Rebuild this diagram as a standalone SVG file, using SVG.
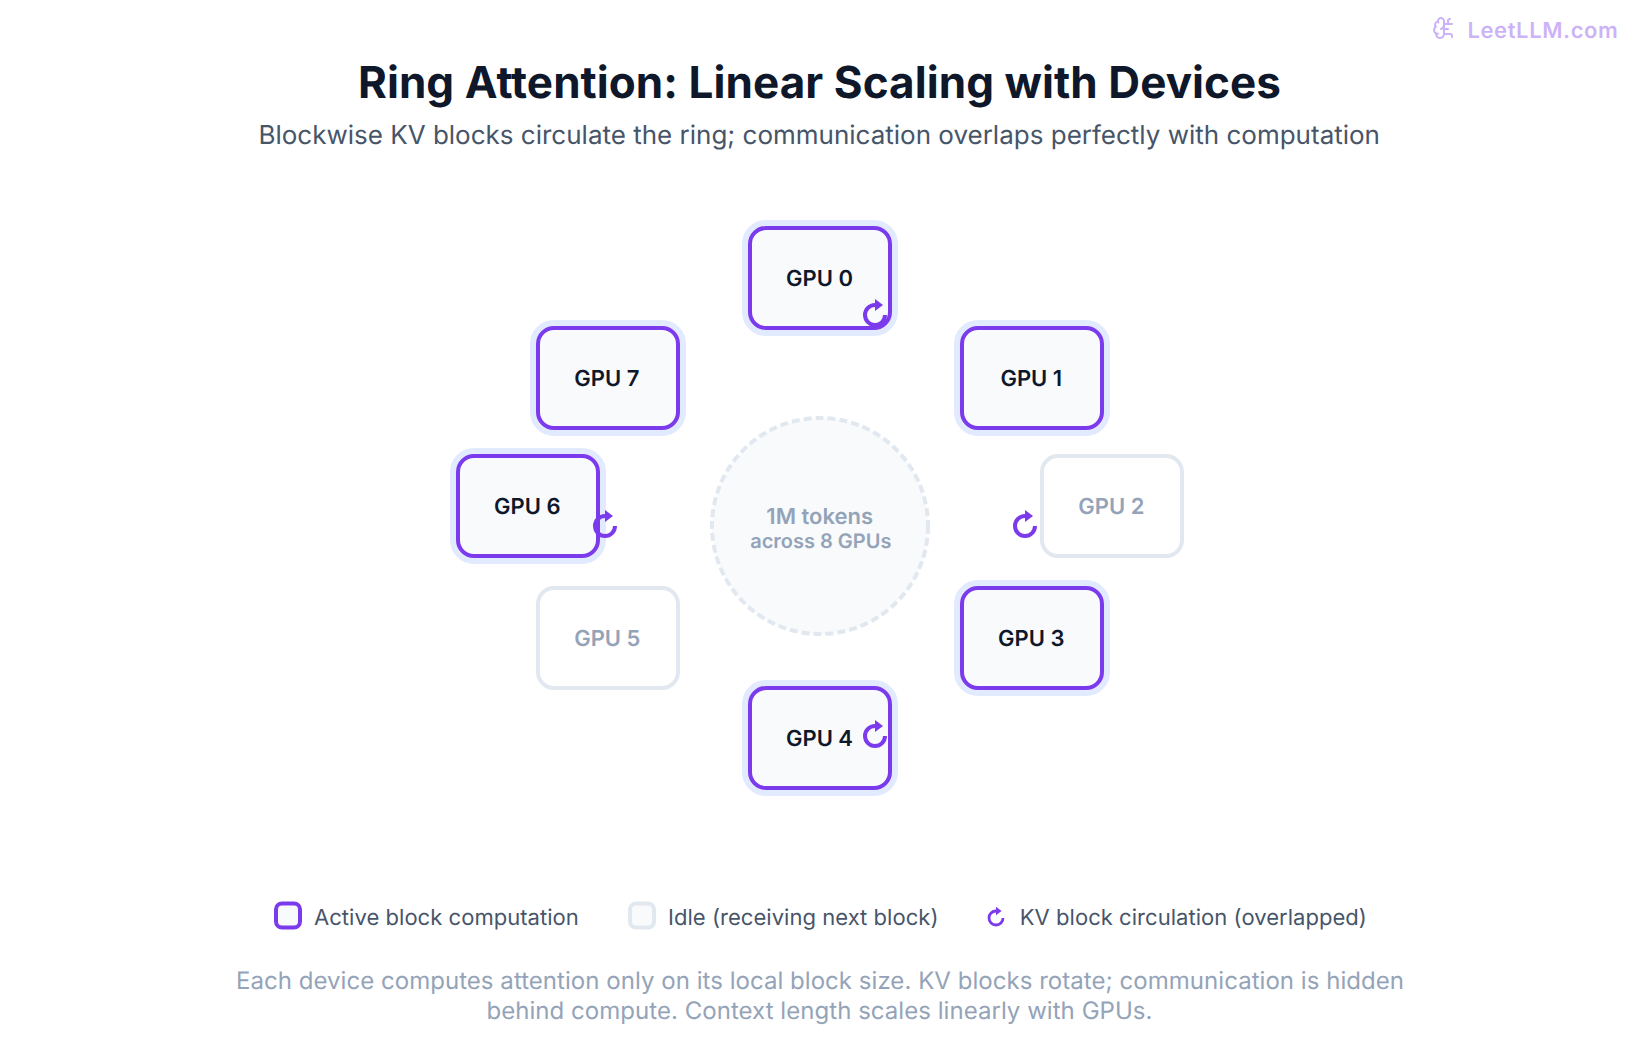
<svg xmlns="http://www.w3.org/2000/svg" width="1640" height="1040" viewBox="0 0 1640 1040">
<style>
text{font-family:Inter,"Noto Sans","Liberation Sans",sans-serif;text-anchor:middle;text-rendering:geometricPrecision}
.title{font-size:44px;font-weight:700;fill:#0f172a;letter-spacing:.075px}
.sub{font-size:26px;fill:#475569}
.halo{fill:none;stroke:#e2eaff;stroke-width:8}
.box{stroke-width:4;rx:16px;ry:16px}
.on{fill:#f8fafc;stroke:#7c3aed}
.off{fill:#fff;stroke:#e2e8f0}
.lab{font-size:22px;font-weight:600}
.lon{fill:#0f172a}
.loff{fill:#94a3b8}
.leg{font-size:22px;fill:#475569;text-anchor:start;letter-spacing:.04px}
.foot{font-size:24px;fill:#94a3b8;letter-spacing:.04px}
.arc{fill:none;stroke:#7c3aed;stroke-width:4;stroke-linecap:butt}
.tip{fill:#7c3aed}
</style>
<defs>
<g id="spin"><path class="arc" d="M10 0A10 10 0 1 1 0 -10"/><polygon class="tip" points="0,-16 8,-10 0,-4"/></g>
</defs>
<rect width="1640" height="1040" fill="#fff"/>
<g id="watermark" opacity="0.38">
<g transform="translate(1432,16)" fill="none" stroke="#7c3aed" stroke-width="2" stroke-linecap="round" stroke-linejoin="round">
<path d="M12 5a3 3 0 1 0-5.997.125 4 4 0 0 0-2.526 5.77 4 4 0 0 0 .556 6.588A4 4 0 1 0 12 18Z"/><path d="M9 13a4.5 4.5 0 0 0 3-4"/><path d="M6.003 5.125A3 3 0 0 0 6.401 6.5"/><path d="M3.477 10.896a4 4 0 0 1 .585-.396"/><path d="M6 18a4 4 0 0 1-1.967-.516"/><path d="M12 13h4"/><path d="M12 18h6a2 2 0 0 1 2 2v1"/><path d="M12 8h8"/><path d="M16 8V5a2 2 0 0 1 2-2"/>
</g>
<text x="1543" y="38" style="font-size:22px;font-weight:600;letter-spacing:.6px" fill="#7c3aed">LeetLLM.com</text>
</g>
<text class="title" x="819.5" y="98">Ring Attention: Linear Scaling with Devices</text>
<text class="sub" x="819.2" y="144">Blockwise KV blocks circulate the ring; communication overlaps perfectly with computation</text>
<g id="center">
<circle cx="820" cy="526" r="108" fill="#f8fafc" stroke="#e2e8f0" stroke-width="4" stroke-dasharray="8 4"/>
<text class="lab loff" x="819.7" y="524">1M tokens</text>
<text x="820.8" y="548" fill="#94a3b8" style="font-size:20px;font-weight:600">across 8 GPUs</text>
</g>
<g id="connectors"></g>
<g id="gpu0"><rect class="halo" x="746" y="224" width="148" height="108" rx="20"/><rect class="box on" x="750" y="228" width="140" height="100"/><text class="lab lon" x="819.5" y="285.6">GPU 0</text><use href="#spin" x="875" y="315"/></g>
<g id="gpu1"><rect class="halo" x="958" y="324" width="148" height="108" rx="20"/><rect class="box on" x="962" y="328" width="140" height="100"/><text class="lab lon" x="1031.3" y="385.6">GPU 1</text></g>
<g id="gpu2"><rect class="box off" x="1042" y="456" width="140" height="100"/><text class="lab loff" x="1111.3" y="513.6">GPU 2</text><use href="#spin" x="1025" y="526"/></g>
<g id="gpu3"><rect class="halo" x="958" y="584" width="148" height="108" rx="20"/><rect class="box on" x="962" y="588" width="140" height="100"/><text class="lab lon" x="1031.3" y="645.6">GPU 3</text></g>
<g id="gpu4"><rect class="halo" x="746" y="684" width="148" height="108" rx="20"/><rect class="box on" x="750" y="688" width="140" height="100"/><text class="lab lon" x="819.5" y="745.6">GPU 4</text><use href="#spin" x="875" y="736"/></g>
<g id="gpu5"><rect class="box off" x="538" y="588" width="140" height="100"/><text class="lab loff" x="607.3" y="645.6">GPU 5</text></g>
<g id="gpu6"><rect class="halo" x="454" y="452" width="148" height="108" rx="20"/><rect class="box on" x="458" y="456" width="140" height="100"/><text class="lab lon" x="527.3" y="513.6">GPU 6</text><use href="#spin" x="605" y="526"/></g>
<g id="gpu7"><rect class="halo" x="534" y="324" width="148" height="108" rx="20"/><rect class="box on" x="538" y="328" width="140" height="100"/><text class="lab lon" x="606.8" y="385.6">GPU 7</text></g>
<g id="legend">
<rect x="276" y="903.5" width="24" height="24" rx="6" fill="#f8fafc" stroke="#7c3aed" stroke-width="4"/>
<text class="leg" x="314" y="925">Active block computation</text>
<rect x="630" y="903.5" width="24" height="24" rx="6" fill="#f8fafc" stroke="#e2e8f0" stroke-width="4"/>
<text class="leg" x="668" y="925">Idle (receiving next block)</text>
<use href="#spin" transform="translate(996,918) scale(.7)"/>
<text class="leg" x="1019.8" y="925">KV block circulation (overlapped)</text>
</g>
<text class="foot" x="820" y="989">Each device computes attention only on its local block size. KV blocks rotate; communication is hidden</text>
<text class="foot" x="819.5" y="1019">behind compute. Context length scales linearly with GPUs.</text>
</svg>
